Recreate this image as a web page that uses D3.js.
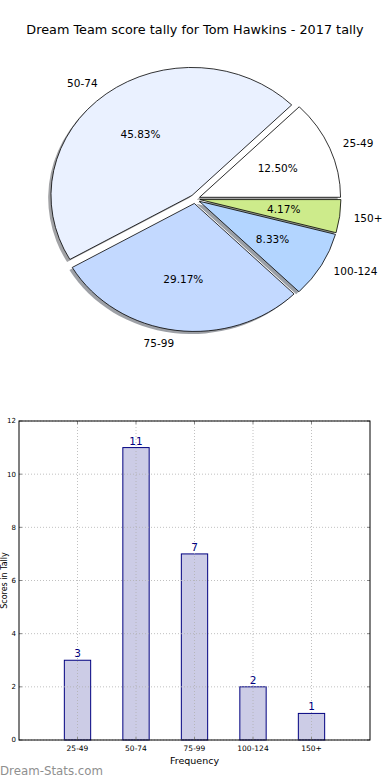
<!DOCTYPE html>
<html>
<head>
<meta charset="utf-8">
<script src="https://cdn.jsdelivr.net/npm/d3@7"></script>
<style>
  body { margin: 0; background: #fff; }
  svg { display: block; font-family: "DejaVu Sans", sans-serif; }
</style>
</head>
<body>
<div id="chart"></div>
<script>
// score bands and how many games fell into each
const categories = ["25-49", "50-74", "75-99", "100-124", "150+"]
const counts = [3, 11, 7, 2, 1]
const sliceColors = ["#ffffff", "#eaf1ff", "#c3d9ff", "#b3d5ff", "#cdeb8b"]
const yTicks = [0, 2, 4, 6, 8, 10, 12]

const W = 390, H = 780

const svg = d3.select("#chart")
    .append("svg")
    .attr("width", W)
    .attr("height", H)

svg.append("text")
    .attr("x", W / 2)
    .attr("y", 34)
    .attr("text-anchor", "middle")
    .style("font-size", "12.8px")
    .text("Dream Team score tally for Tom Hawkins - 2017 tally")

// ---- pie (elliptical, every wedge pushed out a little, with shadow) ----
const cx = 195, cy = 199
const rx = 141, ry = 128
const explode = 0.035
const total = d3.sum(counts)

// matplotlib starts at 3 o'clock and goes anti-clockwise
const pie = d3.pie()
    .sort(null)
    .startAngle(Math.PI / 2)
    .endAngle(Math.PI / 2 - 2 * Math.PI)
const arcs = pie(counts)
const arc = d3.arc().innerRadius(0).outerRadius(rx)

const pieG = svg.append("g")
    .attr("transform", "translate(" + cx + "," + cy + ") scale(1," + (ry / rx) + ")")

function shiftOf(d, dist) {
    const m = (d.startAngle + d.endAngle) / 2
    return [Math.sin(m) * dist, -Math.cos(m) * dist]
}

// shadows first so they sit under all the wedges
pieG.selectAll(".shadow")
    .data(arcs)
    .enter()
    .append("path")
    .attr("class", "shadow")
    .attr("d", arc)
    .attr("transform", function (d) {
        const s = shiftOf(d, explode * rx)
        return "translate(" + (s[0] - 0.02 * rx) + "," + (s[1] + 0.02 * rx) + ")"
    })
    .style("fill", function (d, i) {
        const c = d3.rgb(sliceColors[i])
        return d3.rgb(c.r * 0.3, c.g * 0.3, c.b * 0.3)
    })
    .style("fill-opacity", 0.5)
    .style("stroke", "none")

pieG.selectAll(".wedge")
    .data(arcs)
    .enter()
    .append("path")
    .attr("class", "wedge")
    .attr("d", arc)
    .attr("transform", function (d) {
        const s = shiftOf(d, explode * rx)
        return "translate(" + s[0] + "," + s[1] + ")"
    })
    .style("fill", (d, i) => sliceColors[i])
    .style("stroke", "#000")
    .style("stroke-width", 0.8)
    .attr("vector-effect", "non-scaling-stroke")

function piePoint(d, dist) {
    const m = (d.startAngle + d.endAngle) / 2
    const ex = explode
    return [cx + Math.sin(m) * (ex + dist) * rx, cy - Math.cos(m) * (ex + dist) * ry]
}

// category labels outside
svg.selectAll(".pie-label")
    .data(arcs)
    .enter()
    .append("text")
    .attr("class", "pie-label")
    .attr("x", d => piePoint(d, 1.1)[0])
    .attr("y", d => piePoint(d, 1.1)[1])
    .attr("dy", "0.35em")
    .attr("text-anchor", function (d) {
        const m = (d.startAngle + d.endAngle) / 2
        return Math.sin(m) >= 0 ? "start" : "end"
    })
    .style("font-size", "10.5px")
    .text((d, i) => categories[i])

// percentages inside
svg.selectAll(".pct-label")
    .data(arcs)
    .enter()
    .append("text")
    .attr("class", "pct-label")
    .attr("x", d => piePoint(d, 0.6)[0])
    .attr("y", d => piePoint(d, 0.6)[1])
    .attr("dy", "0.35em")
    .attr("text-anchor", "middle")
    .style("font-size", "10.5px")
    .text(d => (d.value / total * 100).toFixed(2) + "%")

// ---- bar chart ----
const bx0 = 19, bx1 = 370, by0 = 421, by1 = 740

const xScale = d3.scaleLinear().domain([-1, 5]).range([bx0, bx1])
const yScale = d3.scaleLinear().domain([0, 12]).range([by1, by0])
const barW = 0.45

const chart = svg.append("g")

// bars
chart.selectAll(".bar")
    .data(counts)
    .enter()
    .append("rect")
    .attr("class", "bar")
    .attr("x", (d, i) => xScale(i - barW / 2))
    .attr("y", d => yScale(d))
    .attr("width", xScale(barW) - xScale(0))
    .attr("height", d => yScale(0) - yScale(d))
    .style("fill", "#ccccE6")
    .style("stroke", "#000080")
    .style("stroke-width", 1)

// dotted grid on top of bars
chart.selectAll(".ygrid")
    .data(yTicks)
    .enter()
    .append("line")
    .attr("x1", bx0).attr("x2", bx1)
    .attr("y1", d => yScale(d)).attr("y2", d => yScale(d))
    .style("stroke", "#b0b0b0")
    .style("stroke-width", 0.8)
    .style("stroke-dasharray", "1,2")

chart.selectAll(".xgrid")
    .data(categories)
    .enter()
    .append("line")
    .attr("x1", (d, i) => xScale(i)).attr("x2", (d, i) => xScale(i))
    .attr("y1", by0).attr("y2", by1)
    .style("stroke", "#b0b0b0")
    .style("stroke-width", 0.8)
    .style("stroke-dasharray", "1,2")

// inward ticks on all four sides
yTicks.forEach(function (t) {
    chart.append("line").attr("x1", bx0).attr("x2", bx0 + 3)
        .attr("y1", yScale(t)).attr("y2", yScale(t)).style("stroke", "#888")
    chart.append("line").attr("x1", bx1 - 3).attr("x2", bx1)
        .attr("y1", yScale(t)).attr("y2", yScale(t)).style("stroke", "#888")
})
categories.forEach(function (c, i) {
    chart.append("line").attr("x1", xScale(i)).attr("x2", xScale(i))
        .attr("y1", by0).attr("y2", by0 + 3).style("stroke", "#888")
    chart.append("line").attr("x1", xScale(i)).attr("x2", xScale(i))
        .attr("y1", by1 - 3).attr("y2", by1).style("stroke", "#888")
})

// frame
chart.append("rect")
    .attr("x", bx0).attr("y", by0)
    .attr("width", bx1 - bx0).attr("height", by1 - by0)
    .style("fill", "none")
    .style("stroke", "#000")
    .style("stroke-width", 1)

// tick labels
chart.selectAll(".ylab")
    .data(yTicks)
    .enter()
    .append("text")
    .attr("x", bx0 - 3)
    .attr("y", d => yScale(d))
    .attr("dy", "0.35em")
    .attr("text-anchor", "end")
    .style("font-size", "7px")
    .text(d => d)

chart.selectAll(".xlab")
    .data(categories)
    .enter()
    .append("text")
    .attr("x", (d, i) => xScale(i))
    .attr("y", by1 + 11)
    .attr("text-anchor", "middle")
    .style("font-size", "7.5px")
    .text(d => d)

// counts above bars
chart.selectAll(".val")
    .data(counts)
    .enter()
    .append("text")
    .attr("x", (d, i) => xScale(i))
    .attr("y", d => yScale(d) - 3)
    .attr("text-anchor", "middle")
    .style("font-size", "10.5px")
    .style("fill", "#000080")
    .text(d => d)

// axis titles
chart.append("text")
    .attr("x", (bx0 + bx1) / 2)
    .attr("y", 764)
    .attr("text-anchor", "middle")
    .style("font-size", "9.5px")
    .text("Frequency")

chart.append("text")
    .attr("transform", "rotate(-90)")
    .attr("x", -(by0 + by1) / 2)
    .attr("y", 7)
    .attr("text-anchor", "middle")
    .style("font-size", "8px")
    .text("Scores in Tally")

// watermark
svg.append("text")
    .attr("x", 0)
    .attr("y", 775)
    .style("font-size", "11.8px")
    .style("fill", "#8f8f8f")
    .text("Dream-Stats.com")
</script>
</body>
</html>
